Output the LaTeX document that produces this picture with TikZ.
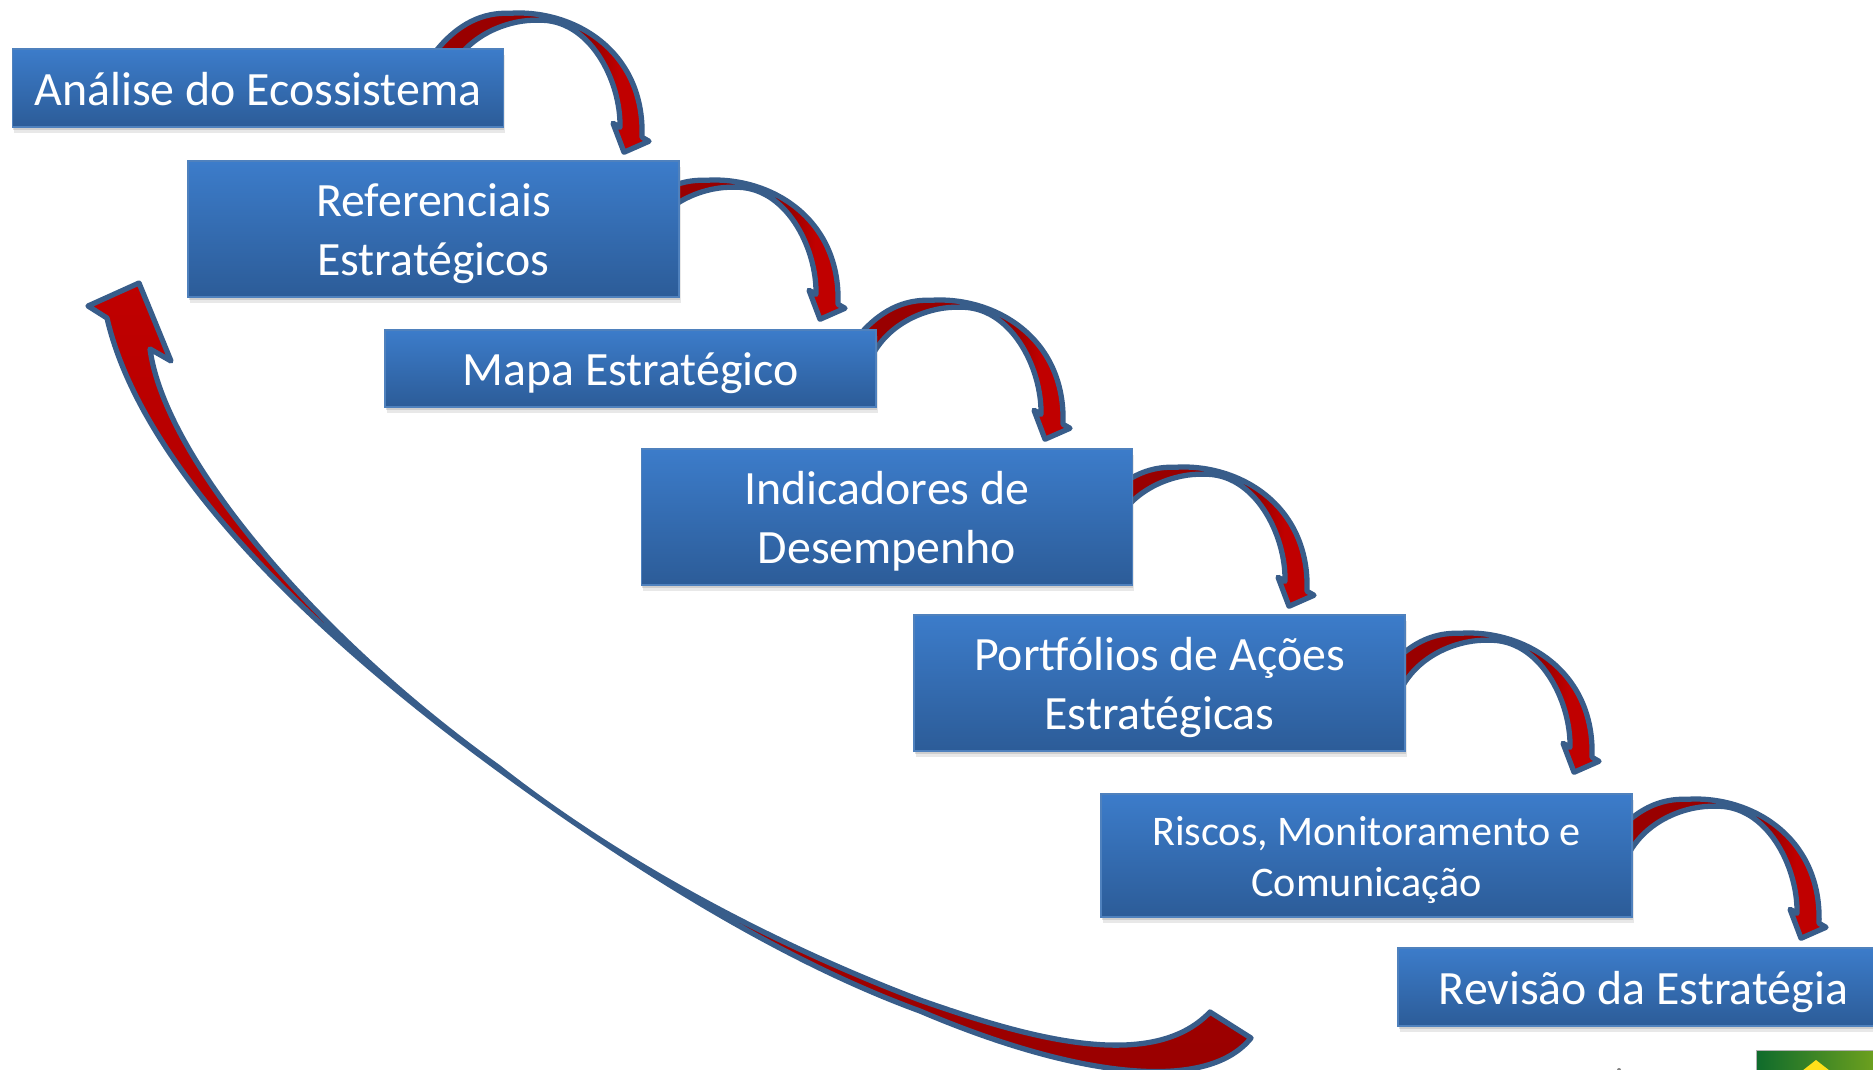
\documentclass[tikz,border=0pt]{standalone}
\usepackage{fontspec}
\setmainfont{Carlito}
\usetikzlibrary{calc,backgrounds,shadows}

\definecolor{boxtop}{HTML}{3C7CCA}
\definecolor{boxbottom}{HTML}{2C5C98}
\definecolor{boxline}{HTML}{4F81BD}
\definecolor{arrowline}{HTML}{385D8A}
\definecolor{arrowred}{HTML}{C00000}
\definecolor{arrowdark}{HTML}{990000}
\definecolor{flagleft}{HTML}{0F6B2C}
\definecolor{flagright}{HTML}{6EA11E}
\definecolor{flagyellow}{HTML}{FFE01A}

\pgfdeclarehorizontalshading{bendred}{100bp}{color(0bp)=(arrowdark); color(62bp)=(arrowdark); color(68bp)=(arrowred); color(100bp)=(arrowred)}

\tikzset{
  stepbox/.style={rectangle,draw=boxline,line width=0.4pt,top color=boxtop,bottom color=boxbottom,
    text=white,align=center,minimum width=4.91cm,inner sep=0pt,font=\fontsize{13.6}{16.7}\selectfont,
    text height=9.7pt,text depth=0pt,
    drop shadow={shadow xshift=0.5pt,shadow yshift=-1.6pt,opacity=.18},
    drop shadow={shadow xshift=0.2pt,shadow yshift=-0.8pt,opacity=.25}},
  twoline/.style={text height=26.4pt,text depth=0pt},
  bendline/.style={draw=arrowline,line width=1.5pt,line join=round},
  bendarrow/.pic={
    \draw[bendline,shade,shading=bendred] (-188,-101) .. controls (-165,-130) and (-140,-141) .. (-113,-140)
      .. controls (-50,-144) and (22,-103) .. (19,-16) -- (26,-12) -- (1,-1) -- (-10,-30) -- (-3,-26)
      .. controls (-2,-72) and (-33,-135) .. (-85,-133)
      .. controls (-110,-134) and (-150,-122) .. (-170,-88) -- cycle;
  }
}

\begin{document}
\begin{tikzpicture}
[x=0.01cm,y=-0.01cm]

\useasboundingbox (0,0) rectangle (1873,1070);

\node[stepbox,minimum height=0.78cm] (b1) at (258,88) {Análise do Ecossistema};
\node[stepbox,twoline,minimum height=1.36cm] (b2) at (433.5,229) {Referenciais\\Estratégicos};
\node[stepbox,minimum height=0.77cm] (b3) at (630.5,368.5) {Mapa Estratégico};
\node[stepbox,twoline,minimum height=1.36cm] (b4) at (887,517) {Indicadores de\\Desempenho};
\node[stepbox,twoline,minimum height=1.36cm] (b5) at (1159.5,683) {Portfólios de Ações\\Estratégicas};
\node[stepbox,minimum height=1.23cm,minimum width=5.31cm,font=\fontsize{12}{14.5}\selectfont,text height=23.4pt,text depth=0pt] (b6) at (1366.5,855.5) {Riscos, Monitoramento e\\Comunicação};
\node[stepbox,minimum height=0.78cm] (b7) at (1643.5,987) {Revisão da Estratégia};

\begin{scope}[on background layer]
\pic at ($(b2.north)+(189.5,-7)$) {bendarrow};
\pic at ($(b3.north)+(188.5,-9)$) {bendarrow};
\pic at ($(b4.north)+(157,-8)$) {bendarrow};
\pic at ($(b5.north)+(128.5,-7)$) {bendarrow};
\pic at ($(b6.north)+(206.5,-20)$) {bendarrow};
\pic at ($(b7.north)+(156.5,-8)$) {bendarrow};
\end{scope}

\draw[bendline,top color=arrowred,middle color=arrowred,bottom color=arrowdark]
  (107,318) -- (88,306) -- (139,283) -- (171,361) -- (150,349)
  .. controls (165,460) and (320,640) .. (498,767)
  .. controls (630,871) and (790,951) .. (920,1000)
  .. controls (1020,1035) and (1150,1075) .. (1210,1012)
  -- (1251,1038)
  .. controls (1205,1095) and (1070,1075) .. (920,1011)
  .. controls (780,960) and (630,865) .. (500,770)
  .. controls (345,657) and (145,483) .. (107,318)
  -- cycle;

\node[rectangle,draw=black!30,line width=0.2pt,left color=flagleft,right color=flagright,minimum width=1.2cm,minimum height=0.25cm,anchor=north west,inner sep=0pt] (flag) at (1756,1050) {};
\fill[flagyellow] (1816,1060) -- (1839,1078) -- (1793,1078) -- cycle;
\fill[black!50] (1619,1070) circle (2);

\end{tikzpicture}
\end{document}
